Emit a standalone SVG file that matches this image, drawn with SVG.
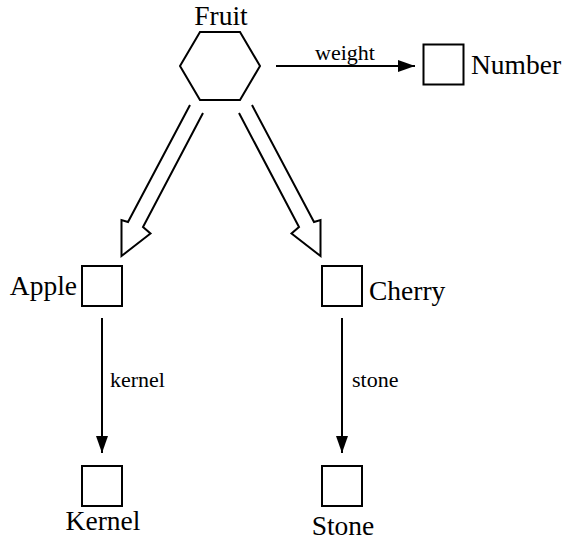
<svg xmlns="http://www.w3.org/2000/svg" width="565" height="540" viewBox="0 0 565 540">
<style>
.shape{fill:#fff;stroke:#000;stroke-width:2}
.node{font-family:'Liberation Serif','Times New Roman','DejaVu Serif',serif;font-size:27.5px;fill:#000}
.lbl{font-family:'Liberation Serif','Times New Roman','DejaVu Serif',serif;font-size:22px;fill:#000}
.edge{fill:none;stroke:#000;stroke-width:2}
.hollow{fill:none;stroke:#000;stroke-width:2;stroke-linejoin:miter}
</style>
<defs>
<marker id="ah" markerUnits="userSpaceOnUse" markerWidth="18" markerHeight="14" refX="17" refY="6" orient="auto">
<path d="M0,0 L17,6 L0,12 Z" fill="#000"/>
</marker>
</defs>
<rect width="565" height="540" fill="#fff"/>
<g id="connectors">
<line class="edge" x1="276" y1="66" x2="415" y2="66" marker-end="url(#ah)"/>
<text class="lbl" x="345" y="60" text-anchor="middle">weight</text>
<polyline class="hollow" points="190,105 128,222 121.5,220 121.5,256 150.5,233.5 143,227 203,113"/>
<polyline class="hollow" points="252,105 314,222 320.5,220 320.5,256 291.5,233.5 299,227 239,113"/>
<line class="edge" x1="102" y1="318" x2="102" y2="453" marker-end="url(#ah)"/>
<text class="lbl" x="110" y="387">kernel</text>
<line class="edge" x1="342" y1="318" x2="342" y2="453" marker-end="url(#ah)"/>
<text class="lbl" x="352" y="387">stone</text>
</g>
<g id="fruit">
<polygon class="shape" points="180,66 200,32 240,32 260,66 240,100 200,100"/>
<text class="node" x="221" y="25" text-anchor="middle">Fruit</text>
</g>
<g id="number">
<rect class="shape" x="423.5" y="44.5" width="40" height="40"/>
<text class="node" x="471" y="74">Number</text>
</g>
<g id="apple">
<rect class="shape" x="82" y="266" width="40" height="40"/>
<text class="node" x="77" y="295" text-anchor="end">Apple</text>
</g>
<g id="cherry">
<rect class="shape" x="322" y="266" width="40" height="40"/>
<text class="node" x="369" y="300">Cherry</text>
</g>
<g id="kernel">
<rect class="shape" x="82" y="466" width="40" height="40"/>
<text class="node" x="103" y="530" text-anchor="middle">Kernel</text>
</g>
<g id="stone">
<rect class="shape" x="322" y="466" width="40" height="40"/>
<text class="node" x="343" y="535" text-anchor="middle">Stone</text>
</g>
</svg>
